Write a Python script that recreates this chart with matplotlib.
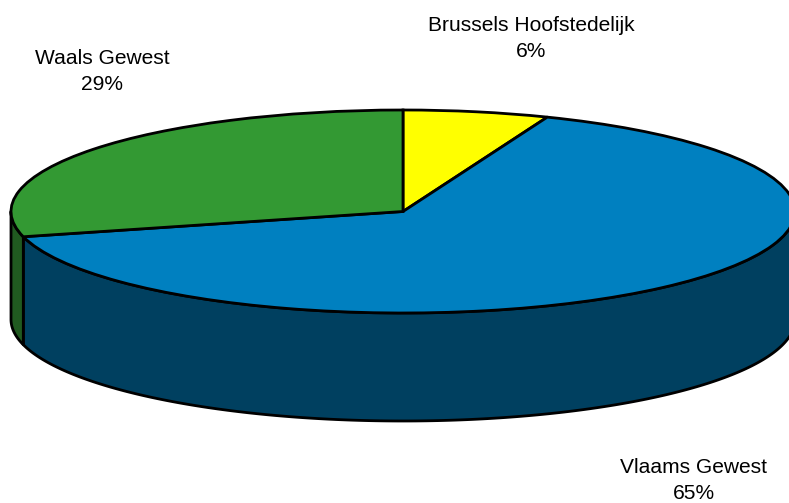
import numpy as np
import matplotlib
matplotlib.use("Agg")
import matplotlib.pyplot as plt

plt.rcParams['font.family'] = ['Liberation Sans', 'DejaVu Sans']

labels = ["Brussels Hoofstedelijk", "Vlaams Gewest", "Waals Gewest"]
values = [6, 65, 29]
top_colors = ["#FFFF00", "#0080C0", "#339933"]
side_colors = ["#808000", "#004060", "#205A20"]

W, H = 789, 503
cx, cy, rx, ry = 403, 211.5, 392, 101.5
depth = 108 / ry

fig = plt.figure(figsize=(W / 100, H / 100), dpi=100)
ax = fig.add_axes([0, 0, 1, 1])

# wall first, pie on top
angle = 90.0
for v, c in zip(values, side_colors):
    end = angle - v * 3.6
    # only the part facing front (180..360 deg) is visible
    a0, a1 = end % 360, (end % 360) + v * 3.6
    lo, hi = max(a0, 180), min(a1, 360)
    if hi > lo:
        t = np.radians(np.linspace(lo, hi, 200))
        xs = np.concatenate([np.cos(t), np.cos(t[::-1])])
        ys = np.concatenate([np.sin(t), np.sin(t[::-1]) - depth])
        ax.fill(xs, ys, facecolor=c, edgecolor="black", linewidth=2, joinstyle="round")
    angle = end

ax.pie(values, colors=top_colors, startangle=90, counterclock=False, radius=1,
       wedgeprops={"edgecolor": "black", "linewidth": 2})

# squash the circle to an ellipse
ax.set_aspect("auto")
ax.set_xlim(-cx / rx, (W - cx) / rx)
ax.set_ylim((cy - H) / ry, cy / ry)
ax.axis("off")

fig.text(531.5 / W, 1 - 38.5 / H, labels[0] + "\n6%", ha="center", va="center", fontsize=15.1, linespacing=1.5)
fig.text(102 / W, 1 - 71.5 / H, labels[2] + "\n29%", ha="center", va="center", fontsize=15.1, linespacing=1.5)
fig.text(694 / W, 1 - 480.5 / H, labels[1] + "\n65%", ha="center", va="center", fontsize=15.1, linespacing=1.5)

fig.savefig("out.png", dpi=100)
